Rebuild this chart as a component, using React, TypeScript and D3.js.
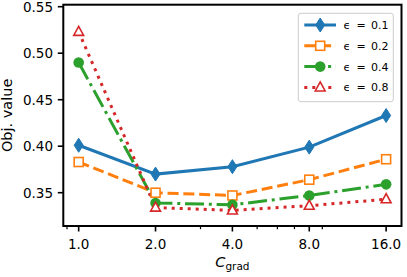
import React, { useEffect, useRef } from 'react';
import * as d3 from 'd3';

const cGrad = [1, 2, 4, 8, 16];
const tickLabels = ['1.0', '2.0', '4.0', '8.0', '16.0'];
const minorTicks = [0.9, 3, 5, 6, 7, 9];
const yTicks = [0.35, 0.4, 0.45, 0.5, 0.55];

const eps01 = [0.401, 0.370, 0.378, 0.399, 0.433];
const eps02 = [0.383, 0.350, 0.347, 0.364, 0.386];
const eps04 = [0.490, 0.339, 0.337, 0.347, 0.359];
const eps08 = [0.523, 0.334, 0.331, 0.336, 0.343];

const epsValues = ['0.1', '0.2', '0.4', '0.8'];

const FONT = '"DejaVu Sans", Verdana, sans-serif';

function App() {
    const svgRef = useRef<SVGSVGElement>(null);

    useEffect(() => {
        const width = 407;
        const height = 277;
        const left = 63.3, right = 401.5, top = 4.7, bottom = 226;

        const svg = d3.select(svgRef.current)
            .attr('width', width)
            .attr('height', height);
        svg.selectAll('*').remove();

        const x = d3.scaleLog().base(2)
            .domain([Math.pow(2, -0.2), Math.pow(2, 4.2)])
            .range([left, right]);
        const y = d3.scaleLinear()
            .domain([0.35, 0.55])
            .range([192.7, 6.7]);

        const series = [
            { eps: epsValues[0], values: eps01, color: '#1f77b4', dash: null, marker: 'thin_diamond' },
            { eps: epsValues[1], values: eps02, color: '#ff7f0e', dash: '11,4.8', marker: 'square' },
            { eps: epsValues[2], values: eps04, color: '#2ca02c', dash: '19,4.8,3,4.8', marker: 'circle' },
            { eps: epsValues[3], values: eps08, color: '#d62728', dash: '3,5', marker: 'triangle' },
        ];

        const clipId = 'plot-clip';
        svg.append('clipPath').attr('id', clipId)
            .append('rect')
            .attr('x', left).attr('y', top)
            .attr('width', right - left).attr('height', bottom - top);

        const line = d3.line<number>()
            .x((d, i) => x(cGrad[i]))
            .y((d) => y(d));

        const drawMarker = (g, kind, cx, cy, color) => {
            if (kind === 'thin_diamond') {
                g.append('path')
                    .attr('d', `M${cx},${cy - 7} L${cx + 4.5},${cy} L${cx},${cy + 7} L${cx - 4.5},${cy} Z`)
                    .attr('fill', color).attr('stroke', color).attr('stroke-width', 1);
            } else if (kind === 'square') {
                g.append('rect')
                    .attr('x', cx - 4.5).attr('y', cy - 4.5)
                    .attr('width', 9).attr('height', 9)
                    .attr('fill', 'white').attr('stroke', color).attr('stroke-width', 1.6);
            } else if (kind === 'circle') {
                g.append('circle')
                    .attr('cx', cx).attr('cy', cy).attr('r', 5.3)
                    .attr('fill', color);
            } else {
                const r = 5.5;
                g.append('path')
                    .attr('d', `M${cx},${cy - r} L${cx + r * 0.9},${cy + r * 0.65} L${cx - r * 0.9},${cy + r * 0.65} Z`)
                    .attr('fill', 'white').attr('stroke', color).attr('stroke-width', 1.6)
                    .attr('stroke-linejoin', 'miter');
            }
        };

        const plot = svg.append('g').attr('clip-path', `url(#${clipId})`);
        series.forEach((s) => {
            plot.append('path')
                .datum(s.values)
                .attr('d', line)
                .attr('fill', 'none')
                .attr('stroke', s.color)
                .attr('stroke-width', 3)
                .attr('stroke-dasharray', s.dash)
                .attr('stroke-linecap', 'butt');
        });
        series.forEach((s) => {
            s.values.forEach((v, i) => drawMarker(plot, s.marker, x(cGrad[i]), y(v), s.color));
        });

        // frame
        svg.append('rect')
            .attr('x', left).attr('y', top)
            .attr('width', right - left).attr('height', bottom - top)
            .attr('fill', 'none').attr('stroke', 'black').attr('stroke-width', 2);

        // x ticks
        cGrad.forEach((c, i) => {
            svg.append('line')
                .attr('x1', x(c)).attr('x2', x(c))
                .attr('y1', bottom).attr('y2', bottom + 5.5)
                .attr('stroke', 'black').attr('stroke-width', 1.6);
            svg.append('text')
                .attr('x', x(c)).attr('y', 248.5)
                .attr('text-anchor', 'middle')
                .attr('font-family', FONT).attr('font-size', 13.5)
                .text(tickLabels[i]);
        });
        minorTicks.forEach((c) => {
            svg.append('line')
                .attr('x1', x(c)).attr('x2', x(c))
                .attr('y1', bottom).attr('y2', bottom + 3.2)
                .attr('stroke', 'black').attr('stroke-width', 1.2);
        });

        // y ticks
        yTicks.forEach((t) => {
            svg.append('line')
                .attr('x1', left - 5.5).attr('x2', left)
                .attr('y1', y(t)).attr('y2', y(t))
                .attr('stroke', 'black').attr('stroke-width', 1.6);
            svg.append('text')
                .attr('x', 53).attr('y', y(t))
                .attr('dy', '0.36em')
                .attr('text-anchor', 'end')
                .attr('font-family', FONT).attr('font-size', 13.5)
                .text(t.toFixed(2));
        });

        // axis labels
        svg.append('text')
            .attr('transform', `translate(12,${(top + bottom) / 2}) rotate(-90)`)
            .attr('text-anchor', 'middle')
            .attr('font-family', FONT).attr('font-size', 14.5)
            .text('Obj. value');

        const xl = svg.append('text')
            .attr('x', (left + right) / 2).attr('y', 267)
            .attr('text-anchor', 'middle')
            .attr('font-family', FONT).attr('font-size', 14.5);
        xl.append('tspan').attr('font-style', 'italic').text('C');
        xl.append('tspan').attr('font-size', 10.5).attr('dy', 3).text('grad');

        // legend
        const lg = svg.append('g');
        lg.append('rect')
            .attr('x', 298.3).attr('y', 13.3)
            .attr('width', 95).attr('height', 88.4)
            .attr('rx', 2.5)
            .attr('fill', 'white').attr('fill-opacity', 0.8)
            .attr('stroke', '#cccccc').attr('stroke-width', 1);
        series.forEach((s, i) => {
            const cy = 25 + i * 20.8;
            lg.append('line')
                .attr('x1', 304.3).attr('x2', 336)
                .attr('y1', cy).attr('y2', cy)
                .attr('stroke', s.color).attr('stroke-width', 3)
                .attr('stroke-dasharray', s.dash);
            drawMarker(lg, s.marker, 320.2, cy, s.color);
            const t = lg.append('text')
                .attr('y', cy)
                .attr('dy', '0.36em')
                .attr('font-family', FONT).attr('font-size', 11);
            t.append('tspan').attr('x', 343.5).text('ϵ');
            t.append('tspan').attr('x', 356.5).text('=');
            t.append('tspan').attr('x', 371).text(s.eps);
        });
    }, []);

    return (
        <svg ref={svgRef} style={{ position: 'absolute', left: 0, top: 0 }}></svg>
    );
}

export default App;
